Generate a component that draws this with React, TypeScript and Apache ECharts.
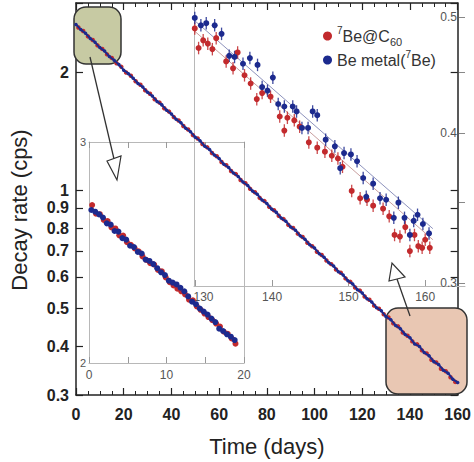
import React, { useEffect, useRef } from "react";
import * as echarts from "echarts";

const FONT = '"Liberation Sans", Arial, Helvetica, sans-serif';
const RED = "#c22a2d";
const BLUE = "#1c2a8e";
const NAME_RED = "Be@C60";
const NAME_BLUE = "Be metal";

// Main plot (days, cps)
const mainBlue: [number, number][] = [
  [0, 2.645], [2, 2.566], [4, 2.512], [6, 2.436], [8, 2.381], [10, 2.309], [12, 2.262], [14, 2.19], [16, 2.143], [18, 2.089],
  [20, 2.022], [22, 1.981], [24, 1.929], [26, 1.87], [28, 1.831], [30, 1.776], [32, 1.738], [34, 1.683], [36, 1.649], [38, 1.598],
  [40, 1.563], [42, 1.515], [44, 1.484], [46, 1.438], [48, 1.409], [50, 1.364], [52, 1.336], [54, 1.293], [56, 1.268], [58, 1.228],
  [60, 1.203], [62, 1.164], [64, 1.141], [66, 1.105], [68, 1.083], [70, 1.048], [72, 1.027], [74, 0.994], [76, 0.975], [78, 0.943],
  [80, 0.924], [82, 0.894], [84, 0.877], [86, 0.848], [88, 0.832], [90, 0.805], [92, 0.79], [94, 0.764], [96, 0.749], [98, 0.725],
  [100, 0.711], [102, 0.688], [104, 0.674], [106, 0.652], [108, 0.64], [110, 0.619], [112, 0.607], [114, 0.587], [116, 0.576], [118, 0.557],
  [120, 0.546], [122, 0.528], [124, 0.518], [126, 0.501], [128, 0.492], [130, 0.475], [132, 0.467], [134, 0.451], [136, 0.443], [138, 0.428],
  [140, 0.42], [142, 0.405], [144, 0.399], [146, 0.385], [148, 0.378], [150, 0.365], [152, 0.359], [154, 0.347], [156, 0.341], [158, 0.329],
  [160, 0.323],
];
const mainRed: [number, number][] = [
  [1, 2.598], [3, 2.544], [5, 2.466], [7, 2.414], [9, 2.339], [11, 2.291], [13, 2.219], [15, 2.173], [17, 2.105], [19, 2.062],
  [21, 1.995], [23, 1.957], [25, 1.894], [27, 1.856], [29, 1.797], [31, 1.761], [33, 1.704], [35, 1.671], [37, 1.617], [39, 1.585],
  [41, 1.535], [43, 1.504], [45, 1.456], [47, 1.427], [49, 1.381], [51, 1.354], [53, 1.31], [55, 1.285], [57, 1.243], [59, 1.219],
  [61, 1.179], [63, 1.157], [65, 1.118], [67, 1.098], [69, 1.061], [71, 1.041], [73, 1.007], [75, 0.987], [77, 0.955], [79, 0.937],
  [81, 0.906], [83, 0.888], [85, 0.86], [87, 0.843], [89, 0.815], [91, 0.8], [93, 0.774], [95, 0.759], [97, 0.734], [99, 0.719],
  [101, 0.696], [103, 0.683], [105, 0.661], [107, 0.647], [109, 0.627], [111, 0.615], [113, 0.595], [115, 0.583], [117, 0.564], [119, 0.554],
  [121, 0.535], [123, 0.525], [125, 0.507], [127, 0.498], [129, 0.482], [131, 0.473], [133, 0.457], [135, 0.449], [137, 0.433], [139, 0.425],
  [141, 0.411], [143, 0.404], [145, 0.39], [147, 0.383], [149, 0.369], [151, 0.363], [153, 0.35], [155, 0.345], [157, 0.333], [159, 0.324],
];

// Upper-right inset (days 130-160)
const zoomBlue: [number, number][] = [
  [129.9, 0.499], [130.7, 0.492], [131.4, 0.494], [132.5, 0.492], [133.4, 0.484], [134.4, 0.464], [135.1, 0.463], [136.2, 0.457],
  [137.1, 0.462], [138.1, 0.456], [138.7, 0.437], [139.4, 0.434], [140.1, 0.445], [140.8, 0.423], [141.6, 0.421], [142.7, 0.421],
  [143.2, 0.417], [143.9, 0.404], [144.7, 0.404], [145.3, 0.417], [145.9, 0.414], [147.0, 0.395], [148.2, 0.39], [148.9, 0.374],
  [149.4, 0.385], [150.3, 0.384], [151.1, 0.379], [151.9, 0.367], [152.3, 0.354], [153.2, 0.363], [154.1, 0.353], [154.9, 0.352],
  [155.9, 0.34], [156.5, 0.35], [157.3, 0.34], [158.0, 0.329], [158.5, 0.338], [159.0, 0.342], [159.7, 0.336], [160.5, 0.33],
];
const zoomRed: [number, number][] = [
  [129.9, 0.489], [130.4, 0.471], [131.0, 0.478], [131.6, 0.475], [132.2, 0.47], [132.7, 0.48], [134.0, 0.459], [134.9, 0.453],
  [135.5, 0.467], [136.4, 0.447], [137.2, 0.44], [138.0, 0.427], [138.7, 0.432], [139.8, 0.429], [141.0, 0.413], [141.6, 0.402],
  [142.0, 0.412], [142.9, 0.41], [143.6, 0.405], [144.8, 0.393], [145.9, 0.389], [146.9, 0.386], [147.8, 0.383], [148.6, 0.381],
  [149.2, 0.375], [150.4, 0.358], [151.5, 0.353], [152.4, 0.352], [153.2, 0.348], [154.5, 0.346], [155.3, 0.341], [156.0, 0.329],
  [156.7, 0.328], [157.4, 0.334], [158.0, 0.319], [158.6, 0.329], [159.1, 0.322], [159.6, 0.321], [160.0, 0.326], [160.6, 0.321],
];
const zoomErr = 0.012; // relative error bar half-length
const fitBlue: [number, number][] = [[129.8, 0.497], [161, 0.333]];
const fitRed: [number, number][] = [[129.8, 0.487], [161, 0.326]];

// Lower-left inset (days 0-20)
const earlyBlue: [number, number][] = [
  [0.3, 2.648], [0.8, 2.64], [1.3, 2.627], [1.8, 2.612], [2.3, 2.584], [2.8, 2.578], [3.3, 2.548], [3.8, 2.545], [4.3, 2.515], [4.8, 2.508],
  [5.3, 2.48], [5.8, 2.474], [6.3, 2.452], [6.8, 2.445], [7.3, 2.418], [7.8, 2.412], [8.3, 2.398], [8.8, 2.38], [9.3, 2.362], [9.8, 2.35],
  [10.3, 2.326], [10.8, 2.318], [11.3, 2.31], [11.8, 2.296], [12.3, 2.281], [12.8, 2.26], [13.3, 2.238], [13.8, 2.228], [14.3, 2.21], [14.8, 2.198],
  [15.3, 2.186], [15.8, 2.17], [16.3, 2.156], [16.8, 2.13], [17.3, 2.121], [17.8, 2.108], [18.3, 2.099], [18.8, 2.086],
];
const earlyRed: [number, number][] = [
  [0.4, 2.672], [0.9, 2.63], [1.4, 2.628], [1.9, 2.6], [2.4, 2.595], [2.9, 2.565], [3.4, 2.56], [3.9, 2.528], [4.4, 2.527], [4.9, 2.496],
  [5.4, 2.484], [5.9, 2.468], [6.4, 2.455], [6.9, 2.432], [7.4, 2.416], [7.9, 2.402], [8.4, 2.396], [8.9, 2.372], [9.4, 2.366], [9.9, 2.34],
  [10.4, 2.32], [10.9, 2.306], [11.4, 2.292], [11.9, 2.281], [12.4, 2.268], [12.9, 2.246], [13.4, 2.244], [13.9, 2.219], [14.4, 2.205], [14.9, 2.19],
  [15.4, 2.176], [15.9, 2.164], [16.4, 2.15], [16.9, 2.138], [17.4, 2.118], [17.9, 2.11], [18.4, 2.092], [18.9, 2.072],
];

// Tick values
const mainYLabels = [0.3, 0.4, 0.5, 0.6, 0.7, 0.8, 0.9, 1, 2];
const mainYTicks = [0.3, 0.4, 0.5, 0.6, 0.7, 0.8, 0.9, 1, 2, 3];
const zoomXTicks = [130, 140, 150, 160];
const zoomYLabels = [0.3, 0.4, 0.5];
const zoomYTicks = [0.3, 0.35, 0.4, 0.45, 0.5];
const earlyYLabels = [2, 3];

const lg = (v: number) => Math.log10(v);
const toLog = (d: [number, number][]) => d.map(([t, v]) => [t, lg(v)]);

export default function App() {
  const ref = useRef<HTMLDivElement>(null);
  useEffect(() => {
    if (!ref.current) return;
    const chart = echarts.init(ref.current, undefined, { renderer: "svg" });
    const dark = "#222";
    const gray = "#b8b8b8";
    const grayText = "#555";
    const fmtLog = (v: number) => {
      const x = Math.pow(10, v);
      return x >= 1 ? String(Math.round(x)) : x.toFixed(1);
    };
    const errRender = (color: string) => (params: any, api: any) => {
      const x = api.value(0);
      const p1 = api.coord([x, api.value(1)]);
      const p2 = api.coord([x, api.value(2)]);
      return {
        type: "line",
        shape: { x1: p1[0], y1: p1[1], x2: p2[0], y2: p2[1] },
        style: { stroke: color, lineWidth: 1.3, opacity: 0.85 },
      };
    };
    const errData = (d: [number, number][]) =>
      d.map(([t, v]) => [t, lg(v * (1 - zoomErr)), lg(v * (1 + zoomErr))]);

    const mainX = {
      type: "value", gridIndex: 0, min: 0, max: 160, interval: 20,
      splitLine: { show: false },
      axisLine: { show: true, onZero: false, lineStyle: { color: dark, width: 1.5 } },
      axisTick: { show: true, inside: true, length: 7, lineStyle: { color: dark, width: 1.2 } },
      minorTick: { show: true, splitNumber: 4, length: 4, lineStyle: { color: dark, width: 1 } },
    };
    const mainY = {
      type: "value", gridIndex: 0, min: lg(0.3), max: lg(3),
      splitLine: { show: false },
      axisLine: { show: true, onZero: false, lineStyle: { color: dark, width: 1.5 } },
      axisTick: { show: true, inside: true, length: 7, customValues: mainYTicks.map(lg), lineStyle: { color: dark, width: 1.2 } },
    };
    const zoomYRange = { min: lg(0.2983), max: lg(0.5135) };
    const grayLine = { show: true, onZero: false, lineStyle: { color: gray, width: 1 } };

    chart.setOption({
      animation: false,
      textStyle: { fontFamily: FONT },
      grid: [
        { left: 75, top: 3, width: 390, height: 392 },
        { left: 194, top: 3, width: 271, height: 283 },
        { left: 89, top: 142, width: 155, height: 221 },
      ],
      legend: {
        orient: "vertical", left: 318, top: 20, itemGap: 2, itemWidth: 9, itemHeight: 9,
        icon: "circle", data: [NAME_RED, NAME_BLUE],
        formatter: (name: string) =>
          name === NAME_RED ? "{sup|7}{n|Be@C}{sub|60}" : "{n|Be metal(}{sup|7}{n|Be)}",
        textStyle: {
          fontFamily: FONT, color: "#333", fontSize: 16,
          rich: {
            n: { fontSize: 16, lineHeight: 22, color: "#333", fontFamily: FONT },
            sup: { fontSize: 10, lineHeight: 12, verticalAlign: "top", color: "#333", fontFamily: FONT },
            sub: { fontSize: 11, lineHeight: 12, verticalAlign: "bottom", color: "#333", fontFamily: FONT },
          },
        },
      },
      xAxis: [
        {
          ...mainX, position: "bottom",
          axisLabel: { fontSize: 16, fontWeight: "bold", color: dark, margin: 11, fontFamily: FONT },
          name: "Time (days)", nameLocation: "middle", nameGap: 40,
          nameTextStyle: { fontSize: 22, color: dark, fontFamily: FONT },
        },
        { ...mainX, position: "top", axisLabel: { show: false } },
        {
          type: "value", gridIndex: 1, min: 129.8, max: 165.2, position: "bottom",
          splitLine: { show: false },
          axisLine: grayLine,
          axisTick: { show: true, inside: true, length: 6, customValues: zoomXTicks, lineStyle: { color: "#999" } },
          axisLabel: {
            customValues: zoomXTicks, color: grayText, fontSize: 12, margin: 5, fontFamily: FONT,
            formatter: (v: number) => (Math.round(v) === 130 ? "{a|130}" : String(Math.round(v))),
            rich: { a: { padding: [0, 0, 0, 16], color: grayText, fontSize: 12, fontFamily: FONT } },
          },
        },
        {
          type: "value", gridIndex: 2, min: 0, max: 20, interval: 10, position: "bottom",
          splitLine: { show: false },
          axisLine: grayLine,
          axisTick: { show: true, inside: true, length: 6, lineStyle: { color: "#999" } },
          minorTick: { show: true, splitNumber: 2, length: 6, lineStyle: { color: "#999" } },
          axisLabel: { color: grayText, fontSize: 12, margin: 6, fontFamily: FONT },
        },
        {
          type: "value", gridIndex: 2, min: 0, max: 20, interval: 10, position: "top",
          splitLine: { show: false },
          axisLine: grayLine,
          axisTick: { show: true, inside: true, length: 6, lineStyle: { color: "#999" } },
          minorTick: { show: true, splitNumber: 2, length: 6, lineStyle: { color: "#999" } },
          axisLabel: { show: false },
        },
      ],
      yAxis: [
        {
          ...mainY, position: "left",
          axisLabel: {
            customValues: mainYLabels.map(lg), formatter: fmtLog,
            fontSize: 16, fontWeight: "bold", color: dark, margin: 7, fontFamily: FONT,
          },
          name: "Decay rate (cps)", nameLocation: "middle", nameGap: 46, nameRotate: 90,
          nameTextStyle: { fontSize: 22, color: dark, fontFamily: FONT, padding: [0, 22, 0, 0] },
        },
        { ...mainY, position: "right", axisLabel: { show: false } },
        {
          type: "value", gridIndex: 1, ...zoomYRange, position: "left",
          splitLine: { show: false },
          axisLine: grayLine,
          axisTick: { show: false }, axisLabel: { show: false },
        },
        {
          type: "value", gridIndex: 1, ...zoomYRange, position: "right",
          splitLine: { show: false },
          axisLine: { show: false, onZero: false },
          axisTick: { show: true, inside: true, length: 6, customValues: zoomYTicks.map(lg), lineStyle: { color: "#888" } },
          axisLabel: {
            inside: true, customValues: zoomYLabels.map(lg), formatter: (v: number) => Math.pow(10, v).toFixed(1),
            color: grayText, fontSize: 12, margin: 8, fontFamily: FONT,
          },
        },
        {
          type: "value", gridIndex: 2, min: lg(2), max: lg(3), position: "left",
          splitLine: { show: false },
          axisLine: grayLine,
          axisTick: { show: false },
          axisLabel: {
            customValues: earlyYLabels.map(lg), formatter: (v: number) => String(Math.round(Math.pow(10, v))),
            color: grayText, fontSize: 11, margin: 3, fontFamily: FONT,
          },
        },
        {
          type: "value", gridIndex: 2, min: lg(2), max: lg(3), position: "right",
          splitLine: { show: false },
          axisLine: grayLine,
          axisTick: { show: false }, axisLabel: { show: false },
        },
      ],
      graphic: [
        { type: "rect", z: 1, shape: { x: 74, y: 7, width: 47, height: 57, r: 12 }, style: { fill: "#c7caa3", stroke: "#333", lineWidth: 1.5 } },
        { type: "rect", z: 1, shape: { x: 386, y: 308, width: 81, height: 86, r: 12 }, style: { fill: "#e9c7b3", stroke: "#333", lineWidth: 1.5 } },
        { type: "line", z: 10, shape: { x1: 90, y1: 57, x2: 114, y2: 159 }, style: { stroke: "#333", lineWidth: 1.3 } },
        { type: "polygon", z: 10, shape: { points: [[117, 180], [107, 161], [121, 156]] }, style: { fill: "#fff", stroke: "#333", lineWidth: 1.2 } },
        { type: "line", z: 10, shape: { x1: 410, y1: 316, x2: 397, y2: 279 }, style: { stroke: "#333", lineWidth: 1.3 } },
        { type: "polygon", z: 10, shape: { points: [[392, 263], [389, 281], [405, 277]] }, style: { fill: "#fff", stroke: "#333", lineWidth: 1.2 } },
      ],
      series: [
        {
          name: NAME_RED, type: "scatter", xAxisIndex: 0, yAxisIndex: 0, z: 3,
          data: toLog(mainRed), symbolSize: 4.5, itemStyle: { color: RED, opacity: 1 },
        },
        {
          name: NAME_BLUE, type: "line", xAxisIndex: 0, yAxisIndex: 0, z: 4,
          data: toLog(mainBlue), symbol: "circle", symbolSize: 3.5,
          lineStyle: { color: BLUE, width: 2 }, itemStyle: { color: BLUE, opacity: 1 },
        },
        {
          name: NAME_RED, type: "scatter", xAxisIndex: 3, yAxisIndex: 4, z: 3,
          data: toLog(earlyRed), symbolSize: 6, itemStyle: { color: RED, opacity: 1 },
        },
        {
          name: NAME_BLUE, type: "scatter", xAxisIndex: 3, yAxisIndex: 4, z: 4,
          data: toLog(earlyBlue), symbolSize: 6, itemStyle: { color: BLUE, opacity: 1 },
        },
        {
          type: "line", xAxisIndex: 2, yAxisIndex: 3, z: 3, data: toLog(fitRed), symbol: "none",
          lineStyle: { color: "#c9a0a0", width: 1 }, silent: true,
        },
        {
          type: "line", xAxisIndex: 2, yAxisIndex: 3, z: 3, data: toLog(fitBlue), symbol: "none",
          lineStyle: { color: "#8e93bd", width: 1 }, silent: true,
        },
        {
          type: "custom", xAxisIndex: 2, yAxisIndex: 3, z: 4, renderItem: errRender(RED),
          data: errData(zoomRed), silent: true,
        },
        {
          name: NAME_RED, type: "scatter", xAxisIndex: 2, yAxisIndex: 3, z: 5,
          data: toLog(zoomRed), symbolSize: 6, itemStyle: { color: RED, opacity: 1 },
        },
        {
          type: "custom", xAxisIndex: 2, yAxisIndex: 3, z: 4, renderItem: errRender(BLUE),
          data: errData(zoomBlue), silent: true,
        },
        {
          name: NAME_BLUE, type: "scatter", xAxisIndex: 2, yAxisIndex: 3, z: 5,
          data: toLog(zoomBlue), symbolSize: 6, itemStyle: { color: BLUE, opacity: 1 },
        },
      ],
    });
    return () => chart.dispose();
  }, []);
  return (
    <div
      ref={ref}
      style={{ position: "fixed", left: 0, top: 0, width: 474, height: 462, background: "#fff" }}
    />
  );
}
